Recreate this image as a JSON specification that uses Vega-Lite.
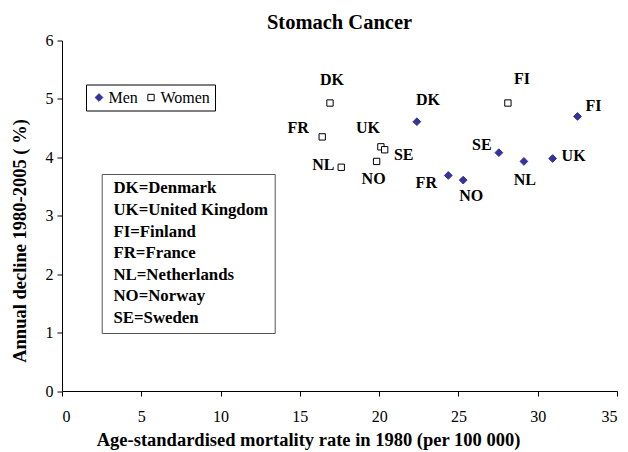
{
  "$schema": "https://vega.github.io/schema/vega-lite/v6.json",
  "width": 555,
  "height": 350.5,
  "autosize": {"type": "none"},
  "padding": {"left": 62, "top": 40.5, "right": 11, "bottom": 61},
  "background": "white",
  "title": {"text": "Stomach Cancer", "font": "Liberation Serif", "fontSize": 20.5, "fontWeight": "bold", "color": "black", "anchor": "middle", "frame": "group", "offset": -1},
  "config": {
    "view": {"stroke": null},
    "axis": {"grid": false, "domainColor": "black", "tickColor": "black", "tickSize": 5, "labelFont": "Liberation Serif", "labelFontSize": 16, "labelColor": "black", "titleFont": "Liberation Serif", "titleFontSize": 18.5, "titleFontWeight": "bold", "titleColor": "black"}
  },
  "data": {"values": [
    {"country": "DK", "sex": "Women", "x": 16.90, "y": 4.93, "key": "DK=Denmark"},
    {"country": "FR", "sex": "Women", "x": 16.41, "y": 4.35, "key": "FR=France"},
    {"country": "UK", "sex": "Women", "x": 20.11, "y": 4.18, "key": "UK=United Kingdom"},
    {"country": "SE", "sex": "Women", "x": 20.35, "y": 4.13, "key": "SE=Sweden"},
    {"country": "NO", "sex": "Women", "x": 19.84, "y": 3.93, "key": "NO=Norway"},
    {"country": "NL", "sex": "Women", "x": 17.61, "y": 3.83, "key": "NL=Netherlands"},
    {"country": "FI", "sex": "Women", "x": 28.12, "y": 4.93, "key": "FI=Finland"},
    {"country": "DK", "sex": "Men", "x": 22.38, "y": 4.61, "key": "DK=Denmark"},
    {"country": "FR", "sex": "Men", "x": 24.36, "y": 3.69, "key": "FR=France"},
    {"country": "NO", "sex": "Men", "x": 25.30, "y": 3.61, "key": "NO=Norway"},
    {"country": "SE", "sex": "Men", "x": 27.55, "y": 4.08, "key": "SE=Sweden"},
    {"country": "NL", "sex": "Men", "x": 29.13, "y": 3.93, "key": "NL=Netherlands"},
    {"country": "UK", "sex": "Men", "x": 30.94, "y": 3.98, "key": "UK=United Kingdom"},
    {"country": "FI", "sex": "Men", "x": 32.51, "y": 4.70, "key": "FI=Finland"}
  ]},
  "encoding": {
    "x": {"field": "x", "type": "quantitative", "scale": {"domain": [0, 35], "nice": false, "zero": true}, "axis": {"values": [0, 5, 10, 15, 20, 25, 30, 35], "title": "Age-standardised mortality rate in 1980 (per 100 000)", "labelPadding": 12, "titlePadding": 6, "titleX": 246}},
    "y": {"field": "y", "type": "quantitative", "scale": {"domain": [0, 6], "nice": false}, "axis": {"values": [0, 1, 2, 3, 4, 5, 6], "title": "Annual decline 1980-2005 ( %)", "labelPadding": 4, "titlePadding": 16, "titleY": 200}}
  },
  "layer": [
    {
      "mark": {"type": "point", "filled": false, "opacity": 1, "strokeWidth": 1},
      "encoding": {
        "shape": {"field": "sex", "type": "nominal", "scale": {"domain": ["Men", "Women"], "range": ["diamond", "square"]}, "legend": {"orient": "none", "legendX": 24, "legendY": 44, "direction": "horizontal", "title": null, "strokeColor": "black", "padding": 5, "labelFont": "Liberation Serif", "labelFontSize": 16, "labelColor": "black", "columnPadding": 5, "labelOffset": 1.5, "symbolSize": 50, "symbolStrokeWidth": 1}},
        "fill": {"field": "sex", "type": "nominal", "scale": {"domain": ["Men", "Women"], "range": ["#333399", "white"]}, "legend": {"orient": "none", "legendX": 24, "legendY": 44, "direction": "horizontal", "title": null, "strokeColor": "black", "padding": 5, "labelFont": "Liberation Serif", "labelFontSize": 16, "labelColor": "black", "columnPadding": 5, "labelOffset": 1.5, "symbolSize": 50, "symbolStrokeWidth": 1}},
        "stroke": {"field": "sex", "type": "nominal", "scale": {"domain": ["Men", "Women"], "range": ["#333399", "black"]}, "legend": {"orient": "none", "legendX": 24, "legendY": 44, "direction": "horizontal", "title": null, "strokeColor": "black", "padding": 5, "labelFont": "Liberation Serif", "labelFontSize": 16, "labelColor": "black", "columnPadding": 5, "labelOffset": 1.5, "symbolSize": 50, "symbolStrokeWidth": 1}},
        "size": {"field": "sex", "type": "nominal", "scale": {"domain": ["Men", "Women"], "range": [60, 40]}, "legend": {"orient": "none", "legendX": 24, "legendY": 44, "direction": "horizontal", "title": null, "strokeColor": "black", "padding": 5, "labelFont": "Liberation Serif", "labelFontSize": 16, "labelColor": "black", "columnPadding": 5, "labelOffset": 1.5, "symbolSize": 50, "symbolStrokeWidth": 1}},
        "opacity": {"field": "key", "type": "ordinal", "scale": {"domain": ["DK=Denmark", "UK=United Kingdom", "FI=Finland", "FR=France", "NL=Netherlands", "NO=Norway", "SE=Sweden"], "range": [1, 1]}, "legend": {"orient": "none", "legendX": 39.7, "legendY": 133.5, "title": null, "strokeColor": "#555555", "padding": 6, "rowPadding": 3.6, "labelFont": "Liberation Serif", "labelFontSize": 16.8, "labelFontWeight": "bold", "labelColor": "black", "labelLimit": 300, "labelOffset": -11, "symbolSize": 0, "symbolOpacity": 0, "symbolStrokeWidth": 0, "symbolFillColor": "transparent", "symbolStrokeColor": "transparent"}}
      }
    },
    {"transform": [{"filter": "datum.country == 'DK' && datum.sex == 'Women'"}], "mark": {"type": "text", "dx": 2, "dy": -23, "font": "Liberation Serif", "fontSize": 16, "fontWeight": "bold", "color": "black"}, "encoding": {"text": {"field": "country"}}},
    {"transform": [{"filter": "datum.country == 'FR' && datum.sex == 'Women'"}], "mark": {"type": "text", "dx": -24, "dy": -9, "font": "Liberation Serif", "fontSize": 16, "fontWeight": "bold", "color": "black"}, "encoding": {"text": {"field": "country"}}},
    {"transform": [{"filter": "datum.country == 'UK' && datum.sex == 'Women'"}], "mark": {"type": "text", "dx": -13, "dy": -19, "font": "Liberation Serif", "fontSize": 16, "fontWeight": "bold", "color": "black"}, "encoding": {"text": {"field": "country"}}},
    {"transform": [{"filter": "datum.country == 'SE' && datum.sex == 'Women'"}], "mark": {"type": "text", "dx": 19, "dy": 5, "font": "Liberation Serif", "fontSize": 16, "fontWeight": "bold", "color": "black"}, "encoding": {"text": {"field": "country"}}},
    {"transform": [{"filter": "datum.country == 'NL' && datum.sex == 'Women'"}], "mark": {"type": "text", "dx": -18, "dy": -2, "font": "Liberation Serif", "fontSize": 16, "fontWeight": "bold", "color": "black"}, "encoding": {"text": {"field": "country"}}},
    {"transform": [{"filter": "datum.country == 'NO' && datum.sex == 'Women'"}], "mark": {"type": "text", "dx": -3, "dy": 18, "font": "Liberation Serif", "fontSize": 16, "fontWeight": "bold", "color": "black"}, "encoding": {"text": {"field": "country"}}},
    {"transform": [{"filter": "datum.country == 'FI' && datum.sex == 'Women'"}], "mark": {"type": "text", "dx": 14, "dy": -24, "font": "Liberation Serif", "fontSize": 16, "fontWeight": "bold", "color": "black"}, "encoding": {"text": {"field": "country"}}},
    {"transform": [{"filter": "datum.country == 'DK' && datum.sex == 'Men'"}], "mark": {"type": "text", "dx": 11, "dy": -22, "font": "Liberation Serif", "fontSize": 16, "fontWeight": "bold", "color": "black"}, "encoding": {"text": {"field": "country"}}},
    {"transform": [{"filter": "datum.country == 'FR' && datum.sex == 'Men'"}], "mark": {"type": "text", "dx": -22, "dy": 8, "font": "Liberation Serif", "fontSize": 16, "fontWeight": "bold", "color": "black"}, "encoding": {"text": {"field": "country"}}},
    {"transform": [{"filter": "datum.country == 'NO' && datum.sex == 'Men'"}], "mark": {"type": "text", "dx": 8, "dy": 16, "font": "Liberation Serif", "fontSize": 16, "fontWeight": "bold", "color": "black"}, "encoding": {"text": {"field": "country"}}},
    {"transform": [{"filter": "datum.country == 'SE' && datum.sex == 'Men'"}], "mark": {"type": "text", "dx": -17, "dy": -8, "font": "Liberation Serif", "fontSize": 16, "fontWeight": "bold", "color": "black"}, "encoding": {"text": {"field": "country"}}},
    {"transform": [{"filter": "datum.country == 'NL' && datum.sex == 'Men'"}], "mark": {"type": "text", "dx": 1, "dy": 19, "font": "Liberation Serif", "fontSize": 16, "fontWeight": "bold", "color": "black"}, "encoding": {"text": {"field": "country"}}},
    {"transform": [{"filter": "datum.country == 'UK' && datum.sex == 'Men'"}], "mark": {"type": "text", "dx": 21, "dy": -3, "font": "Liberation Serif", "fontSize": 16, "fontWeight": "bold", "color": "black"}, "encoding": {"text": {"field": "country"}}},
    {"transform": [{"filter": "datum.country == 'FI' && datum.sex == 'Men'"}], "mark": {"type": "text", "dx": 16, "dy": -10, "font": "Liberation Serif", "fontSize": 16, "fontWeight": "bold", "color": "black"}, "encoding": {"text": {"field": "country"}}}
  ]
}
